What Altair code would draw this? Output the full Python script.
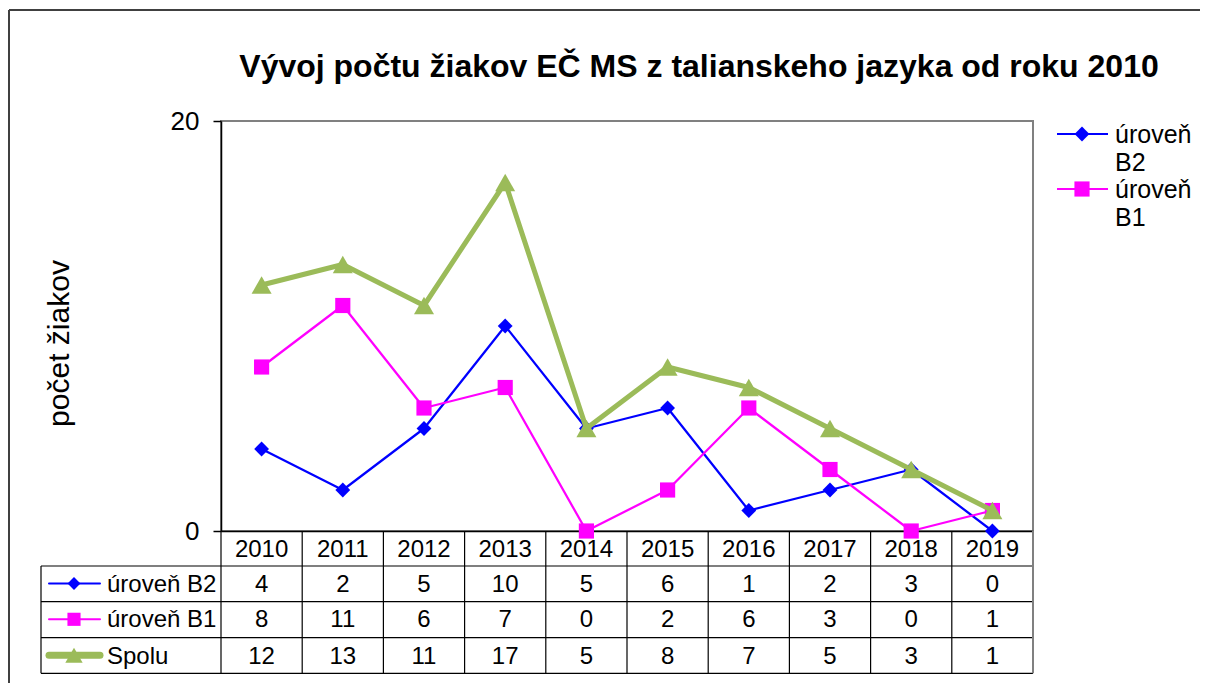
import altair as alt
import pandas as pd

# ---------------- data ----------------
years = ["2010", "2011", "2012", "2013", "2014", "2015", "2016", "2017", "2018", "2019"]
b2 = [4, 2, 5, 10, 5, 6, 1, 2, 3, 0]
b1 = [8, 11, 6, 7, 0, 2, 6, 3, 0, 1]
spolu = [12, 13, 11, 17, 5, 8, 7, 5, 3, 1]
series_names = ["úroveň B2", "úroveň B1", "Spolu"]
series_values = [b2, b1, spolu]
legend_count = 2  # only the first two entries are visible in the side legend

title_text = "Vývoj počtu žiakov EČ MS z talianskeho jazyka od roku 2010"
y_title = "počet žiakov"
y_ticks = [0, 20]

# ---------------- styles / layout ----------------
series_colors = ["#0000FF", "#FF00FF", "#9BBB59"]
series_shapes = ["diamond", "square", "triangle-up"]
line_widths = [2.25, 2.25, 5]
marker_sizes = [220, 230, 400]
key_widths = [2, 2, 7]

FONT = "Liberation Sans"
PLOT_LEFT, PLOT_TOP = 221, 121
W, H = 812, 410


def px(x):
    return x - PLOT_LEFT


def py(y):
    return y - PLOT_TOP


x_scale = alt.Scale(type="band", domain=years, paddingInner=0, paddingOuter=0)
y_scale = alt.Scale(domain=[0, 20], nice=False, zero=True)
x_axis = alt.Axis(labels=False, ticks=False, title=None, grid=False,
                  domainColor="black", domainWidth=1.5)
y_axis = alt.Axis(values=y_ticks, title=None, grid=False, domainColor="black",
                  domainWidth=1.5, tickColor="black", tickSize=8, tickWidth=1.5,
                  labelFont=FONT, labelFontSize=26, labelColor="black",
                  labelPadding=14)


def X(band=0.5):
    return alt.X("year:N", scale=x_scale, axis=x_axis, bandPosition=band)


def Y():
    return alt.Y("value:Q", scale=y_scale, axis=y_axis)


one = pd.DataFrame({"k": [0]})
layers = []

# frame around the whole chart (top and left edge visible)
layers.append(alt.Chart(one).mark_rule(color="#404040", strokeWidth=2).encode(
    x=alt.value(px(9)), y=alt.value(py(10)), y2=alt.value(py(720))))
layers.append(alt.Chart(one).mark_rule(color="#404040", strokeWidth=2).encode(
    x=alt.value(px(9)), x2=alt.value(px(1220)), y=alt.value(py(10))))

# series lines + markers
for i, (name, vals) in enumerate(zip(series_names, series_values)):
    df = pd.DataFrame({"year": years, "value": vals, "series": name})
    base = alt.Chart(df)
    layers.append(base.mark_line(color=series_colors[i], strokeWidth=line_widths[i],
                                 strokeJoin="round").encode(x=X(), y=Y()))
    layers.append(base.mark_point(shape=series_shapes[i], size=marker_sizes[i],
                                  filled=True, color=series_colors[i], opacity=1,
                                  strokeWidth=0).encode(x=X(), y=Y()))

# ---------------- data table ----------------
grid_color = "black"
row_lines = [566, 601.7, 637.7, 673.3]
for yl in row_lines:
    layers.append(alt.Chart(one).mark_rule(color=grid_color, strokeWidth=1.2).encode(
        x=alt.value(px(41)), x2=alt.value(px(1033)), y=alt.value(py(yl))))
layers.append(alt.Chart(one).mark_rule(color=grid_color, strokeWidth=1.2).encode(
    x=alt.value(px(41)), y=alt.value(py(566)), y2=alt.value(py(673.3))))
layers.append(alt.Chart(pd.DataFrame({"year": years, "value": b2})).mark_rule(
    color=grid_color, strokeWidth=1.2).encode(
    x=X(0), y=alt.value(py(531)), y2=alt.value(py(673.3))))
layers.append(alt.Chart(one).mark_rule(color="#808080", strokeWidth=2).encode(
    x=alt.value(px(1033)), y=alt.value(py(531)), y2=alt.value(py(673.3))))

# header: years
layers.append(alt.Chart(pd.DataFrame({"year": years})).mark_text(
    font=FONT, fontSize=24, color="black", align="center", baseline="alphabetic").encode(
    x=X(), y=alt.value(py(557)), text="year:N"))

row_baselines = [591.7, 627.3, 664]
row_centers = [583.5, 619.3, 655.3]
for i, (name, vals) in enumerate(zip(series_names, series_values)):
    df = pd.DataFrame({"year": years, "value": vals})
    layers.append(alt.Chart(df).mark_text(
        font=FONT, fontSize=24, color="black", align="center", baseline="alphabetic").encode(
        x=X(), y=alt.value(py(row_baselines[i])), text="value:Q"))
    ldf = pd.DataFrame({"series": [name]})
    layers.append(alt.Chart(ldf).mark_text(
        font=FONT, fontSize=24, color="black", align="left", baseline="alphabetic").encode(
        x=alt.value(px(107)), y=alt.value(py(row_baselines[i])), text="series:N"))
    layers.append(alt.Chart(ldf).mark_rule(color=series_colors[i], strokeWidth=key_widths[i],
                                           strokeCap="round").encode(
        x=alt.value(px(49)), x2=alt.value(px(100)), y=alt.value(py(row_centers[i]))))
    layers.append(alt.Chart(ldf).mark_point(shape=series_shapes[i], size=marker_sizes[i] * 0.75,
                                            filled=True, color=series_colors[i], opacity=1,
                                            strokeWidth=0).encode(
        x=alt.value(px(74)), y=alt.value(py(row_centers[i]))))

# ---------------- side legend ----------------
for i in range(legend_count):
    ldf = pd.DataFrame({"series": [series_names[i]]})
    sy = 134 + 55 * i
    layers.append(alt.Chart(ldf).mark_rule(color=series_colors[i], strokeWidth=2).encode(
        x=alt.value(px(1057)), x2=alt.value(px(1108)), y=alt.value(py(sy))))
    layers.append(alt.Chart(ldf).mark_point(shape=series_shapes[i], size=marker_sizes[i],
                                            filled=True, color=series_colors[i], opacity=1,
                                            strokeWidth=0).encode(
        x=alt.value(px(1082)), y=alt.value(py(sy))))
    layers.append(alt.Chart(ldf).mark_text(
        font=FONT, fontSize=25, color="black", align="left", baseline="alphabetic",
        lineBreak=" ", lineHeight=28).encode(
        x=alt.value(px(1115)), y=alt.value(py(sy + 9)), text="series:N"))

# ---------------- titles ----------------
layers.append(alt.Chart(pd.DataFrame({"t": [title_text]})).mark_text(
    font=FONT, fontSize=32, fontWeight="bold", color="black", align="center",
    baseline="alphabetic").encode(x=alt.value(px(699)), y=alt.value(py(77)), text="t:N"))
layers.append(alt.Chart(pd.DataFrame({"t": [y_title]})).mark_text(
    font=FONT, fontSize=30, color="black", align="center", baseline="alphabetic",
    angle=270).encode(x=alt.value(px(69)), y=alt.value(py(343.5)), text="t:N"))

chart = alt.layer(*layers).properties(
    width=W, height=H,
    padding={"left": 213, "top": 113, "right": 167, "bottom": 152},
    autosize=alt.AutoSizeParams(type="none"),
    background="white",
).configure_view(stroke="#808080", strokeWidth=2)

chart.save("out.html", embed_options={"renderer": "svg", "actions": False})
